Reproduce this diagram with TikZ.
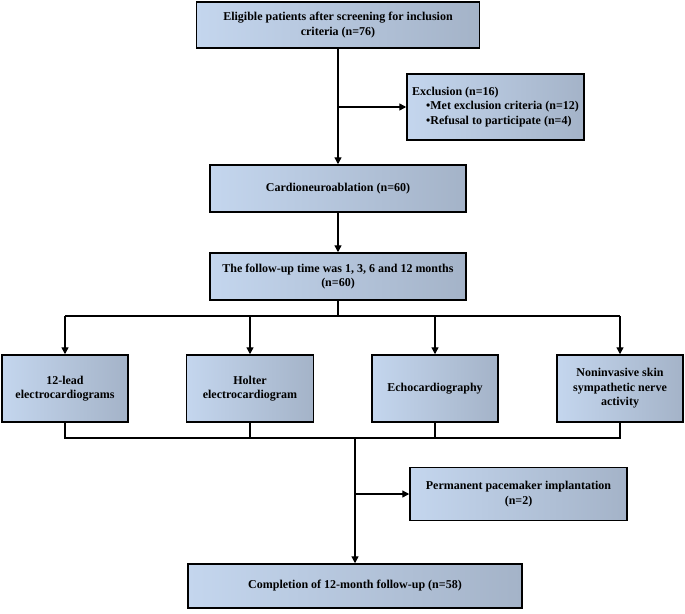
\documentclass[tikz,border=0pt]{standalone}
\usepackage{fontspec}
\setmainfont{Liberation Serif}
\usetikzlibrary{arrows.meta}
\definecolor{boxlight}{HTML}{C4D6EE}
\definecolor{boxdark}{HTML}{A4B3C8}
\tikzset{
  fbox/.style={draw=black, line width=1.5pt, left color=boxlight, right color=boxdark,
    inner sep=2pt, align=center, font=\bfseries\fontsize{12}{14.5}\selectfont},
  conn/.style={line width=1.4pt, black},
  arr/.style={conn, -{Triangle[length=7pt,width=7pt]}}
}
\begin{document}
\begin{tikzpicture}[x=1pt,y=-1pt]
\useasboundingbox (0,0) rectangle (685,613);
\node[fbox, minimum width=283pt, minimum height=46pt] (b1) at (338,25)
  {Eligible patients after screening for inclusion\\criteria (n=76)};
\node[fbox, minimum width=177pt, minimum height=66pt, align=left] (excl) at (495.5,107)
  {Exclusion (n=16)\\\hspace{14pt}\textbullet Met exclusion criteria (n=12)\\\hspace{14pt}\textbullet Refusal to participate (n=4)};
\node[fbox, minimum width=256pt, minimum height=47pt] (b2) at (338,188.5)
  {Cardioneuroablation (n=60)};
\node[fbox, minimum width=256pt, minimum height=47pt] (b3) at (338,276.5)
  {The follow-up time was 1, 3, 6 and 12 months\\(n=60)};
\node[fbox, minimum width=126pt, minimum height=67pt] (l1) at (65,388.5)
  {12-lead\\electrocardiograms};
\node[fbox, minimum width=127pt, minimum height=67pt] (l2) at (250,388.5)
  {Holter\\electrocardiogram};
\node[fbox, minimum width=126pt, minimum height=67pt] (l3) at (435,388.5)
  {Echocardiography};
\node[fbox, minimum width=126pt, minimum height=67pt] (l4) at (620,388.5)
  {Noninvasive skin\\sympathetic nerve\\activity};
\node[fbox, minimum width=217pt, minimum height=53pt] (pace) at (518.5,494)
  {Permanent pacemaker implantation\\(n=2)};
\node[fbox, minimum width=334pt, minimum height=44pt] (fin) at (355,586)
  {Completion of 12-month follow-up (n=58)};
\coordinate (br) at (338,316);
\coordinate (jn) at (355,438);
% top chain
\draw[arr] (b1.south) -- (b2.north);
\draw[arr] (b1.south |- excl.west) -- (excl.west);
\draw[arr] (b2.south) -- (b3.north);
% branch
\draw[conn] (b3.south) -- (br);
\draw[conn] (br -| l1.north) -- (br -| l4.north);
\draw[arr] (br -| l1.north) -- (l1.north);
\draw[arr] (br -| l2.north) -- (l2.north);
\draw[arr] (br -| l3.north) -- (l3.north);
\draw[arr] (br -| l4.north) -- (l4.north);
% join
\draw[conn] (l1.south) -- (l1.south |- jn) -- (l4.south |- jn) -- (l4.south);
\draw[conn] (l2.south) -- (l2.south |- jn);
\draw[conn] (l3.south) -- (l3.south |- jn);
\draw[arr] (jn) -- (fin.north);
\draw[arr] (jn |- pace.west) -- (pace.west);
\end{tikzpicture}
\end{document}
